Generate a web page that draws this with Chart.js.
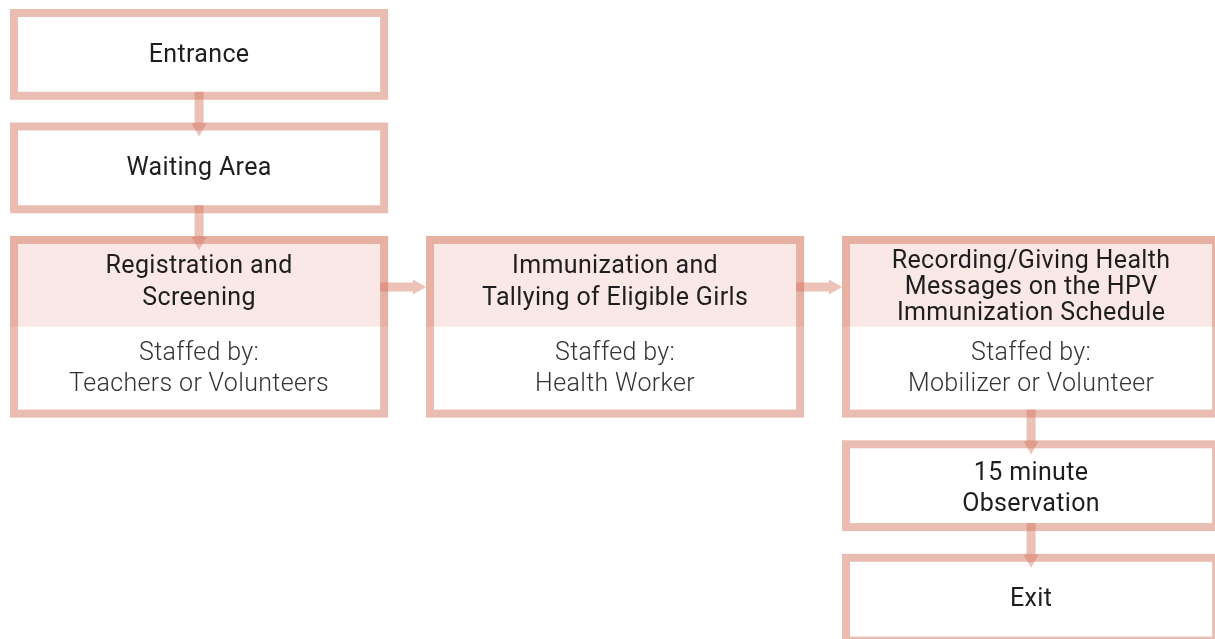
<!DOCTYPE html>
<html>
<head>
<meta charset="utf-8">
<script src="https://cdn.jsdelivr.net/npm/chart.js@4/dist/chart.umd.min.js"></script>
<style>
  html, body { margin: 0; padding: 0; background: #fff; }
  #wrap { width: 1215px; height: 639px; position: relative; }
</style>
</head>
<body>
<div id="wrap"><canvas id="flowChart"></canvas></div>
<script>
// flow steps (column / row on the grid, text inside each box)
const stepTitles = [
  ["Entrance"],
  ["Waiting Area"],
  ["Registration and", "Screening"],
  ["Immunization and", "Tallying of Eligible Girls"],
  ["Recording/Giving Health", "Messages on the HPV", "Immunization Schedule"],
  ["15 minute", "Observation"],
  ["Exit"]
];
const staffedBy = [null, null, "Teachers or Volunteers", "Health Worker", "Mobilizer or Volunteer", null, null];
const stepCol = [0, 0, 0, 1, 2, 2, 2];
const stepRow = [0, 1, 2, 2, 2, 3, 4];
const links = [[0, 1], [1, 2], [2, 3], [3, 4], [4, 5], [5, 6]];

const BORDER = "#e9bdb1";
const HEADER = "rgba(215,112,92,0.16)";
const ARROW = "rgba(212,118,94,0.45)";
const FONT = "Roboto, 'DejaVu Sans', sans-serif";

// grid helpers (units -> the tall row takes 1.8 units)
const boxW = 0.909, shortH = 0.8, tallH = 1.6;
function rowTop(r) { return r > 2 ? r + 0.8 : r; }
function boxH(i) { return staffedBy[i] ? tallH : shortH; }

function boxRect(chart, i) {
  const xs = chart.scales.x, ys = chart.scales.y;
  const x0 = xs.getPixelForValue(stepCol[i]);
  const x1 = xs.getPixelForValue(stepCol[i] + boxW);
  const y0 = ys.getPixelForValue(rowTop(stepRow[i]));
  const y1 = ys.getPixelForValue(rowTop(stepRow[i]) + boxH(i));
  const yh = ys.getPixelForValue(rowTop(stepRow[i]) + shortH);
  return { x0, x1, y0, y1, yh };
}

const flowPlugin = {
  id: "flow",
  afterDatasetsDraw(chart) {
    const ctx = chart.ctx;
    const bw = 8;
    const rects = stepTitles.map((_, i) => boxRect(chart, i));

    // boxes
    rects.forEach((r, i) => {
      ctx.save();
      ctx.fillStyle = "#fff";
      ctx.fillRect(r.x0, r.y0, r.x1 - r.x0, r.y1 - r.y0);
      ctx.strokeStyle = BORDER;
      ctx.lineWidth = bw;
      ctx.strokeRect(r.x0 + bw / 2, r.y0 + bw / 2, r.x1 - r.x0 - bw, r.y1 - r.y0 - bw);
      if (staffedBy[i]) {
        ctx.fillStyle = HEADER;
        ctx.fillRect(r.x0, r.y0, r.x1 - r.x0, r.yh - r.y0);
      }
      ctx.restore();
    });

    // arrows
    ctx.save();
    ctx.fillStyle = ARROW;
    links.forEach(([a, b]) => {
      const ra = rects[a], rb = rects[b];
      ctx.beginPath();
      if (stepCol[a] === stepCol[b]) {
        const cx = (ra.x0 + ra.x1) / 2;
        const yStart = ra.y1 - bw, tip = rb.y0 + 14, base = tip - 13;
        ctx.rect(cx - 4.5, yStart, 9, base - yStart);
        ctx.moveTo(cx - 7.5, base);
        ctx.lineTo(cx + 7.5, base);
        ctx.lineTo(cx, tip);
        ctx.closePath();
      } else {
        const cy = ra.y0 + 51;
        const xStart = ra.x1 - bw, tip = rb.x0, base = tip - 13;
        ctx.rect(xStart, cy - 4.5, base - xStart, 9);
        ctx.moveTo(base, cy - 7.5);
        ctx.lineTo(base, cy + 7.5);
        ctx.lineTo(tip, cy);
        ctx.closePath();
      }
      ctx.fill();
    });
    ctx.restore();

    // text
    ctx.save();
    ctx.textAlign = "center";
    ctx.textBaseline = "middle";
    ctx.letterSpacing = "0.35px";
    rects.forEach((r, i) => {
      const cx = (r.x0 + r.x1) / 2;
      const lines = stepTitles[i];
      const lh = lines.length > 2 ? 26 : (staffedBy[i] ? 32 : 31);
      let shift = 1;
      if (lines.length > 2) shift = 6;
      else if (lines.length === 2 && !staffedBy[i]) shift = 4;
      const cyTitle = (r.y0 + r.yh) / 2 + shift;
      ctx.font = "400 25px " + FONT;
      ctx.fillStyle = "#1e1e1e";
      lines.forEach((t, k) => {
        ctx.fillText(t, cx, cyTitle + (k - (lines.length - 1) / 2) * lh);
      });
      if (staffedBy[i]) {
        const cyStaff = (r.yh + r.y1) / 2 - 3;
        ctx.font = "300 25px " + FONT;
        ctx.fillStyle = "#333";
        ctx.fillText("Staffed by:", cx, cyStaff - 15.5);
        ctx.fillText(staffedBy[i], cx, cyStaff + 15.5);
      }
    });
    ctx.restore();
  }
};

new Chart(document.getElementById("flowChart"), {
  type: "scatter",
  data: {
    datasets: [{
      label: "steps",
      data: stepTitles.map((_, i) => ({ x: stepCol[i] + boxW / 2, y: rowTop(stepRow[i]) + boxH(i) / 2 })),
      pointRadius: 0
    }]
  },
  options: {
    responsive: true,
    maintainAspectRatio: false,
    animation: false,
    layout: { padding: 0 },
    plugins: { legend: { display: false }, tooltip: { enabled: false } },
    scales: {
      x: { display: false, min: -10 / 416, max: 1205 / 416 },
      y: { display: false, reverse: true, min: -9 / 113.5, max: 630 / 113.5 }
    }
  },
  plugins: [flowPlugin]
});
</script>
</body>
</html>
